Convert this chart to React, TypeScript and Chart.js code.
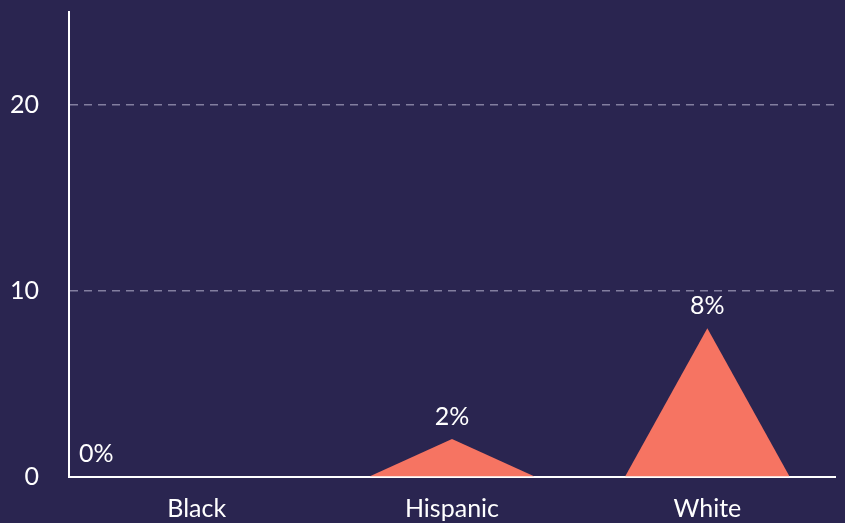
import React, { useEffect, useRef } from "react";
import { Chart, registerables } from "chart.js";

Chart.register(...registerables);

const categories = ["Black", "Hispanic", "White"];
const values = [0, 2.04, 8];
const valueLabels = ["0%", "2%", "8%"];
const yTicks = [0, 10, 20];

const BG = "#2a2550";
const FILL = "#f67462";
const FONT = "Lato, 'DejaVu Sans', sans-serif";
const FS = 25;

const trianglePlugin = {
  id: "triangles",
  afterDatasetsDraw(chart: any) {
    const ctx = chart.ctx;
    const meta = chart.getDatasetMeta(0);
    ctx.save();
    meta.data.forEach((bar: any, i: number) => {
      const { x, y, base, width } = bar.getProps(["x", "y", "base", "width"], true);
      if (values[i] > 0) {
        ctx.fillStyle = FILL;
        ctx.beginPath();
        ctx.moveTo(x - width / 2, base);
        ctx.lineTo(x, y);
        ctx.lineTo(x + width / 2, base);
        ctx.closePath();
        ctx.fill();
      }
      ctx.fillStyle = "#ffffff";
      ctx.font = `${FS}px ${FONT}`;
      ctx.textBaseline = "middle";
      if (values[i] > 0) {
        ctx.textAlign = "center";
        ctx.fillText(valueLabels[i], x, y - 22);
      } else {
        ctx.textAlign = "left";
        ctx.fillText(valueLabels[i], chart.chartArea.left + 10, y - 23);
      }
    });
    ctx.restore();
  },
};

export default function App() {
  const ref = useRef<HTMLCanvasElement>(null);
  useEffect(() => {
    document.body.style.margin = "0";
    document.body.style.background = BG;
    const chart = new Chart(ref.current!, {
      type: "bar",
      data: {
        labels: categories,
        datasets: [
          {
            data: values,
            backgroundColor: "rgba(0,0,0,0)",
            borderWidth: 0,
            categoryPercentage: 1,
            barPercentage: 0.643,
          },
        ],
      },
      options: {
        animation: false,
        responsive: false,
        maintainAspectRatio: false,
        layout: { padding: { top: 12, right: 10, left: 0, bottom: 0 } },
        plugins: { legend: { display: false }, tooltip: { enabled: false } },
        scales: {
          x: {
            grid: { display: false, drawTicks: false },
            border: { display: true, color: "#ffffff", width: 2 },
            ticks: {
              color: "#ffffff",
              font: { family: FONT, size: FS },
              padding: 17,
              maxRotation: 0,
            },
            afterFit(scale: any) {
              scale.height = 46;
              scale.paddingLeft = 0;
              scale.paddingRight = 0;
            },
          },
          y: {
            min: 0,
            max: 25,
            afterBuildTicks(scale: any) {
              scale.ticks = yTicks.map((v) => ({ value: v }));
            },
            grid: {
              drawTicks: false,
              color: (c: any) => (c.tick && c.tick.value === 0 ? "rgba(0,0,0,0)" : "rgba(160,156,185,0.75)"),
              lineWidth: 1.5,
            },
            border: { display: true, color: "#ffffff", width: 2, dash: [8, 6] },
            ticks: {
              color: "#ffffff",
              font: { family: FONT, size: FS },
              padding: 30,
            },
            afterFit(scale: any) {
              scale.width = 69;
              scale.paddingTop = 0;
              scale.paddingBottom = 0;
            },
          },
        },
      },
      plugins: [trianglePlugin],
    });
    return () => chart.destroy();
  }, []);
  return (
    <div style={{ width: 845, height: 523, background: BG }}>
      <canvas ref={ref} width={845} height={523} style={{ width: 845, height: 523, display: "block" }} />
    </div>
  );
}
